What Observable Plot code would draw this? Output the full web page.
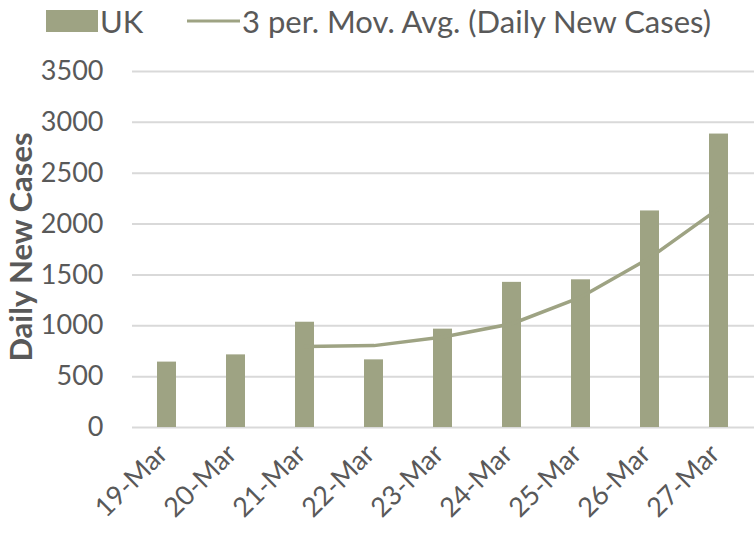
<!DOCTYPE html>
<html>
<head>
<meta charset="utf-8">
<script src="https://cdn.jsdelivr.net/npm/d3@7"></script>
<script src="https://cdn.jsdelivr.net/npm/@observablehq/plot@0.6"></script>
<style>
  html, body { margin: 0; padding: 0; background: #fff; }
  body { width: 754px; height: 534px; overflow: hidden; font-family: Lato, "Open Sans", sans-serif; color: #595959; }
  #legend { height: 44px; position: relative; font-size: 31px; }
  #legend .item { position: absolute; top: 2px; display: flex; align-items: center; white-space: nowrap; line-height: 38px; }
  #chart svg { display: block; }
</style>
</head>
<body>
<div id="legend">
  <div class="item" style="left:46px"><svg width="52" height="22"><rect width="52" height="22" fill="#9ea383"/></svg><span style="margin-left:2px">UK</span></div>
  <div class="item" style="left:187px"><svg width="53" height="22"><line x1="0" x2="53" y1="11" y2="11" stroke="#9ea383" stroke-width="3"/></svg><span style="margin-left:2px">3 per. Mov. Avg. (Daily New Cases)</span></div>
</div>
<div id="chart"></div>
<script>
const dates = ["19-Mar","20-Mar","21-Mar","22-Mar","23-Mar","24-Mar","25-Mar","26-Mar","27-Mar"];
const cases = [643, 714, 1035, 665, 967, 1427, 1452, 2129, 2885];
const movAvg = [null, null, 797, 805, 889, 1020, 1282, 1669, 2155];
const yTicks = [0, 500, 1000, 1500, 2000, 2500, 3000, 3500];

const rows = dates.map((d, i) => ({date: d, cases: cases[i], avg: movAvg[i]}));
const color = "#9ea383";

const plot = Plot.plot({
  width: 754,
  height: 490,
  marginTop: 27,
  marginBottom: 107,
  marginLeft: 132,
  marginRight: 0,
  style: {fontFamily: "Lato, 'Open Sans', sans-serif", fontSize: "26px", color: "#595959", background: "#fff"},
  x: {domain: dates, paddingInner: 0.72, paddingOuter: 0.36, label: null},
  y: {domain: [0, 3500], label: null},
  marks: [
    Plot.ruleY(yTicks, {stroke: "#d9d9d9", strokeWidth: 2}),
    Plot.barY(rows, {x: "date", y: "cases", fill: color}),
    Plot.line(rows.filter(r => r.avg != null), {x: "date", y: "avg", stroke: color, strokeWidth: 3.5}),
    Plot.axisY({ticks: yTicks, tickFormat: d => String(d), tickSize: 0, tickPadding: 29, label: null, fill: "#595959", fontSize: 27}),
    Plot.axisX({tickSize: 0, tickRotate: -45, tickPadding: 22, dx: -4, label: null, fill: "#595959", fontSize: 27})
  ]
});
document.getElementById("chart").appendChild(plot);

// y axis title
d3.select(plot).append("text")
  .attr("transform", "translate(32,203) rotate(-90)")
  .attr("text-anchor", "middle")
  .attr("font-weight", "bold")
  .attr("font-size", "31px")
  .attr("fill", "#595959")
  .text("Daily New Cases");
</script>
</body>
</html>
